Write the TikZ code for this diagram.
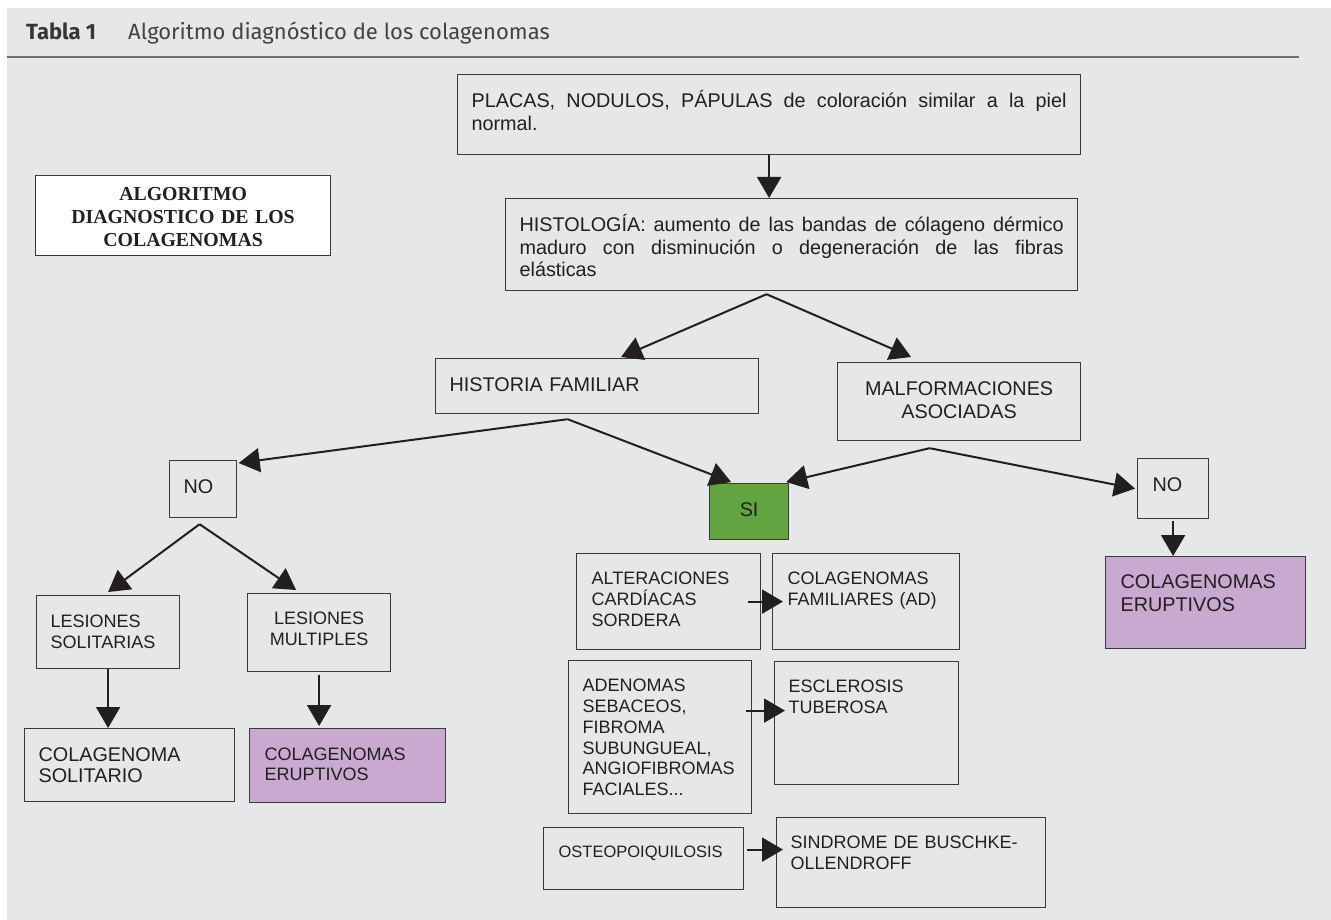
\documentclass[tikz,border=0pt]{standalone}
\usepackage{fontspec}
\setmainfont{Liberation Sans}
\newfontfamily\headfont{Fira Sans}
\newfontfamily\titlefont{Liberation Serif}
\definecolor{colbg}{HTML}{E6E7E8}
\definecolor{colborder}{HTML}{3A3A3A}
\definecolor{coltext}{HTML}{231F20}
\definecolor{colrule}{HTML}{6D6E70}
\definecolor{colgreen}{HTML}{62A442}
\definecolor{colpurple}{HTML}{C9A9D0}
\usepackage{tikz}
\usetikzlibrary{arrows.meta}
\hyphenpenalty=10000
\tolerance=9999

\begin{document}
\begin{tikzpicture}[
  x=1pt, y=-1pt,
  box/.style={draw=colborder, line width=1.2pt, anchor=north west,
    inner xsep=14pt, inner ysep=0pt, text=coltext, align=left,
    font=\fontsize{19.8}{22.5}\selectfont},
  smallbox/.style={box, font=\fontsize{18}{21}\selectfont},
  arr/.style={-{Triangle[length=21pt,width=24pt]}, line width=2pt, draw=coltext}
]
  \useasboundingbox (0,0) rectangle (1331,920);
  \fill[colbg] (7,8) rectangle (1331,920);

  % Caption
  \node[anchor=base west, inner sep=0pt, text=coltext!90,
    font=\headfont\fontsize{22}{24}\selectfont] (tabla) at (26,40) {\bfseries Tabla 1};
  \node[anchor=base west, inner sep=0pt, text=coltext!85,
    font=\headfont\fontsize{22}{24}\selectfont] (caption) at (128,40) {Algoritmo diagnóstico de los colagenomas};
  \draw[colrule, line width=1.5pt] (7,57) -- (1299,57);

  % Title box
  \node[box, fill=white, align=center, text width=267pt, text height=25pt, text depth=55pt,
    font=\titlefont\bfseries\fontsize{19.8}{23}\selectfont] (title) at (35,175)
    {ALGORITMO\\DIAGNOSTICO DE LOS\\COLAGENOMAS};

  % Main chain
  \node[box, align=justify, text width=595pt, text height=33pt, text depth=47pt] (placas) at (457,74)
    {PLACAS, NODULOS, PÁPULAS de coloración similar a la piel normal.};
  \node[box, align=justify, text width=544pt, text height=33pt, text depth=59pt] (histo) at (505,198)
    {HISTOLOGÍA: aumento de las bandas de cólageno dérmico maduro con disminución o degeneración de las fibras\linebreak elásticas};
  \node[box, text width=295pt, text height=33pt, text depth=22pt] (historia) at (435,358)
    {HISTORIA FAMILIAR};
  \node[box, align=center, text width=215pt, text height=33pt, text depth=45pt] (malf) at (837,362)
    {MALFORMACIONES\\ASOCIADAS};

  % Answers
  \node[box, text width=39pt, text height=33pt, text depth=24pt] (noleft) at (169,460) {NO};
  \node[box, fill=colgreen, align=center, text width=51pt, text height=33pt, text depth=23pt] (si) at (709,483) {SI};
  \node[box, inner xsep=15pt, text width=41pt, text height=33pt, text depth=27pt] (noright) at (1137,458) {NO};

  % Left branch
  \node[smallbox, text width=115pt, text height=32pt, text depth=41pt] (solit) at (36,595)
    {LESIONES\\SOLITARIAS};
  \node[smallbox, align=center, text width=115pt, text height=31pt, text depth=47pt] (mult) at (247,593)
    {LESIONES\\MULTIPLES};
  \node[box, font=\fontsize{19.8}{21}\selectfont, text width=182pt, text height=33pt, text depth=40pt] (colsol) at (24,728)
    {COLAGENOMA\\SOLITARIO};
  \node[smallbox, fill=colpurple, inner xsep=15pt, font=\fontsize{18}{20}\selectfont,
    text width=166pt, text height=32pt, text depth=42pt] (erupl) at (249,728)
    {COLAGENOMAS\\ERUPTIVOS};

  % Right branch
  \node[box, fill=colpurple, inner xsep=15pt, font=\fontsize{19.8}{23}\selectfont,
    text width=170pt, text height=32pt, text depth=60pt] (erupr) at (1105,556)
    {COLAGENOMAS\\ERUPTIVOS};

  % Associated findings
  \node[smallbox, inner xsep=15pt, text width=154pt, text height=31pt, text depth=65pt] (alter) at (576,553)
    {ALTERACIONES\\CARDÍACAS\\SORDERA};
  \node[smallbox, inner xsep=15pt, text width=157pt, text height=31pt, text depth=65pt] (famil) at (772,553)
    {COLAGENOMAS\\FAMILIARES (AD)};
  \node[smallbox, font=\fontsize{18}{20.8}\selectfont, text width=155pt, text height=31pt, text depth=122pt] (aden) at (568,660)
    {ADENOMAS\\SEBACEOS,\\FIBROMA\\SUBUNGUEAL,\\ANGIOFIBROMAS\\FACIALES...};
  \node[smallbox, text width=156pt, text height=31pt, text depth=92pt] (escl) at (774,661)
    {ESCLEROSIS\\TUBEROSA};
  \node[box, inner xsep=15pt, font=\fontsize{16.5}{20}\selectfont, text width=170pt, text height=30pt, text depth=32pt] (osteo) at (543,827)
    {OSTEOPOIQUILOSIS};
  \node[smallbox, text width=241pt, text height=31pt, text depth=59pt] (sind) at (776,817)
    {SINDROME DE BUSCHKE-\\OLLENDROFF};

  % Forks
  \coordinate (histo fork) at ([xshift=-25pt,yshift=-3pt]histo.south);
  \coordinate (historia fork) at ([xshift=-29.5pt,yshift=-5pt]historia.south);
  \coordinate (malf fork) at ([xshift=-29.5pt,yshift=-7pt]malf.south);
  \coordinate (no fork) at ([xshift=-3.5pt,yshift=-6pt]noleft.south);

  % Arrows
  \draw[arr] (placas.south) -- (placas.south |- histo.north);
  \draw[arr] (histo fork) -- ([xshift=24pt,yshift=1pt]historia.north);
  \draw[arr] (histo fork) -- ([xshift=-48pt,yshift=5pt]malf.north);
  \draw[arr] (historia fork) -- ([xshift=1.5pt,yshift=-3pt]noleft.north east);
  \draw[arr] (historia fork) -- ([xshift=-18pt,yshift=1pt]si.north);
  \draw[arr] (malf fork) -- ([xshift=-3pt,yshift=1pt]si.north east);
  \draw[arr] (malf fork) -- ([xshift=-2pt]noright.west);
  \draw[arr] (no fork) -- ([yshift=3pt]solit.north);
  \draw[arr] (no fork) -- ([xshift=-23pt,yshift=3pt]mult.north);
  \draw[arr] (solit.south) -- (solit.south |- colsol.north);
  \draw[arr] ([yshift=-3pt]mult.south) -- ([yshift=2pt]mult.south |- erupl.north);
  \draw[arr] ([yshift=-2pt]noright.south) -- (noright.south |- erupr.north);
  \draw[arr] ([xshift=-13pt]alter.east) -- ([xshift=11pt]famil.west);
  \draw[arr] ([xshift=-6pt,yshift=26.5pt]aden.east) -- ([xshift=11pt,yshift=12.5pt]escl.west);
  \draw[arr] ([xshift=3pt,yshift=9pt]osteo.east) -- ([xshift=7pt,yshift=13pt]sind.west);
\end{tikzpicture}
\end{document}
